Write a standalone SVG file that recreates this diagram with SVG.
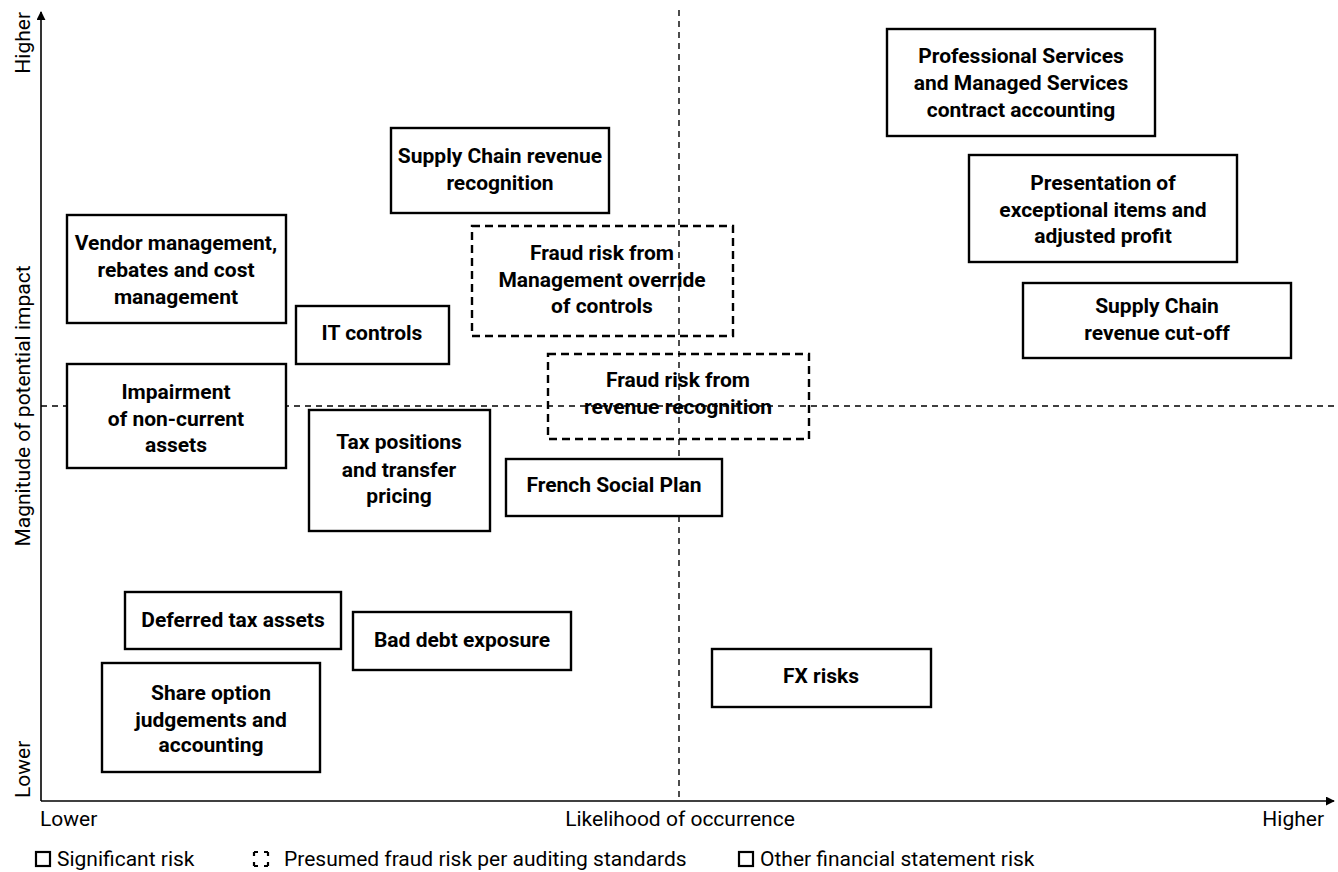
<svg xmlns="http://www.w3.org/2000/svg" width="1338" height="872" viewBox="0 0 1338 872">
<style>
.bx{fill:#fff;stroke:#000;stroke-width:2.4}
.fr{fill:none;stroke:#000;stroke-width:2.4;stroke-dasharray:8 5}
.t{font-family:Roboto,"Liberation Sans",sans-serif;font-weight:700;font-size:21px;fill:#000;text-anchor:middle}
.ax{font-family:Roboto,"Liberation Sans",sans-serif;font-size:21px;fill:#000}
.lg{font-family:Roboto,"Liberation Sans",sans-serif;font-size:21px;fill:#000}
.dl{stroke:#000;stroke-width:1.4;stroke-dasharray:6 5;fill:none}
.li{fill:none;stroke:#000;stroke-width:2.2}
</style>
<defs>
<marker id="ah" viewBox="0 0 10 10" refX="9" refY="5" markerWidth="9" markerHeight="9" markerUnits="userSpaceOnUse" orient="auto">
<path d="M0,0 L10,5 L0,10 z" fill="#000"/>
</marker>
</defs>
<rect width="1338" height="872" fill="#fff"/>
<g id="quadrant-lines">
<line class="dl" x1="679" y1="10" x2="679" y2="801"/>
<line class="dl" x1="41" y1="406" x2="1338" y2="406"/>
</g>
<g id="axes">
<line x1="41" y1="801" x2="41" y2="12" stroke="#000" stroke-width="1.6" marker-end="url(#ah)"/>
<line x1="41" y1="801" x2="1334" y2="801" stroke="#000" stroke-width="1.6" marker-end="url(#ah)"/>
<text class="ax" transform="translate(30,12) rotate(-90)" text-anchor="end">Higher</text>
<text class="ax" transform="translate(30,406) rotate(-90)" text-anchor="middle">Magnitude of potential impact</text>
<text class="ax" transform="translate(30,798) rotate(-90)">Lower</text>
<text class="ax" x="40" y="826">Lower</text>
<text class="ax" x="680" y="826" text-anchor="middle">Likelihood of occurrence</text>
<text class="ax" x="1324" y="826" text-anchor="end">Higher</text>
</g>
<g id="node-professional-services">
<rect class="bx" x="887" y="29" width="268" height="107"/>
<text class="t" x="1021" y="63">Professional Services</text>
<text class="t" x="1021" y="90">and Managed Services</text>
<text class="t" x="1021" y="117">contract accounting</text>
</g>
<g id="node-presentation">
<rect class="bx" x="969" y="155" width="268" height="107"/>
<text class="t" x="1103" y="190">Presentation of</text>
<text class="t" x="1103" y="217">exceptional items and</text>
<text class="t" x="1103" y="243">adjusted profit</text>
</g>
<g id="node-supply-chain-cutoff">
<rect class="bx" x="1023" y="283" width="268" height="75"/>
<text class="t" x="1157" y="313">Supply Chain</text>
<text class="t" x="1157" y="340">revenue cut-off</text>
</g>
<g id="node-supply-chain-recognition">
<rect class="bx" x="391" y="128" width="218" height="85"/>
<text class="t" x="500" y="163">Supply Chain revenue</text>
<text class="t" x="500" y="190">recognition</text>
</g>
<g id="node-fraud-management-override">
<rect class="fr" x="472" y="226" width="261" height="110"/>
<text class="t" x="602" y="260">Fraud risk from</text>
<text class="t" x="602" y="287">Management override</text>
<text class="t" x="602" y="313">of controls</text>
</g>
<g id="node-fraud-revenue">
<rect class="fr" x="548" y="354" width="261" height="85"/>
<text class="t" x="678" y="387">Fraud risk from</text>
<text class="t" x="678" y="414">revenue recognition</text>
</g>
<g id="node-vendor-management">
<rect class="bx" x="67" y="215" width="219" height="108"/>
<text class="t" x="176" y="250">Vendor management,</text>
<text class="t" x="176" y="277">rebates and cost</text>
<text class="t" x="176" y="304">management</text>
</g>
<g id="node-it-controls">
<rect class="bx" x="296" y="306" width="153" height="58"/>
<text class="t" x="372" y="340">IT controls</text>
</g>
<g id="node-impairment">
<rect class="bx" x="67" y="364" width="219" height="104"/>
<text class="t" x="176" y="399">Impairment</text>
<text class="t" x="176" y="426">of non-current</text>
<text class="t" x="176" y="452">assets</text>
</g>
<g id="node-tax-positions">
<rect class="bx" x="309" y="410" width="181" height="121"/>
<text class="t" x="399" y="449">Tax positions</text>
<text class="t" x="399" y="477">and transfer</text>
<text class="t" x="399" y="503">pricing</text>
</g>
<g id="node-french-social-plan">
<rect class="bx" x="506" y="459" width="216" height="57"/>
<text class="t" x="614" y="492">French Social Plan</text>
</g>
<g id="node-deferred-tax">
<rect class="bx" x="125" y="592" width="216" height="57"/>
<text class="t" x="233" y="627">Deferred tax assets</text>
</g>
<g id="node-bad-debt">
<rect class="bx" x="353" y="612" width="218" height="58"/>
<text class="t" x="462" y="647">Bad debt exposure</text>
</g>
<g id="node-share-option">
<rect class="bx" x="102" y="663" width="218" height="109"/>
<text class="t" x="211" y="700">Share option</text>
<text class="t" x="211" y="727">judgements and</text>
<text class="t" x="211" y="752">accounting</text>
</g>
<g id="node-fx-risks">
<rect class="bx" x="712" y="649" width="219" height="58"/>
<text class="t" x="821" y="683">FX risks</text>
</g>
<g id="legend">
<rect class="li" x="36" y="852" width="14" height="14"/>
<text class="lg" x="57" y="866">Significant risk</text>
<rect class="li" x="254" y="852" width="14" height="14" stroke-dasharray="4 6 4 0"/>
<text class="lg" x="284" y="866">Presumed fraud risk per auditing standards</text>
<rect class="li" x="739" y="852" width="14" height="14"/>
<text class="lg" x="760" y="866">Other financial statement risk</text>
</g>
</svg>
